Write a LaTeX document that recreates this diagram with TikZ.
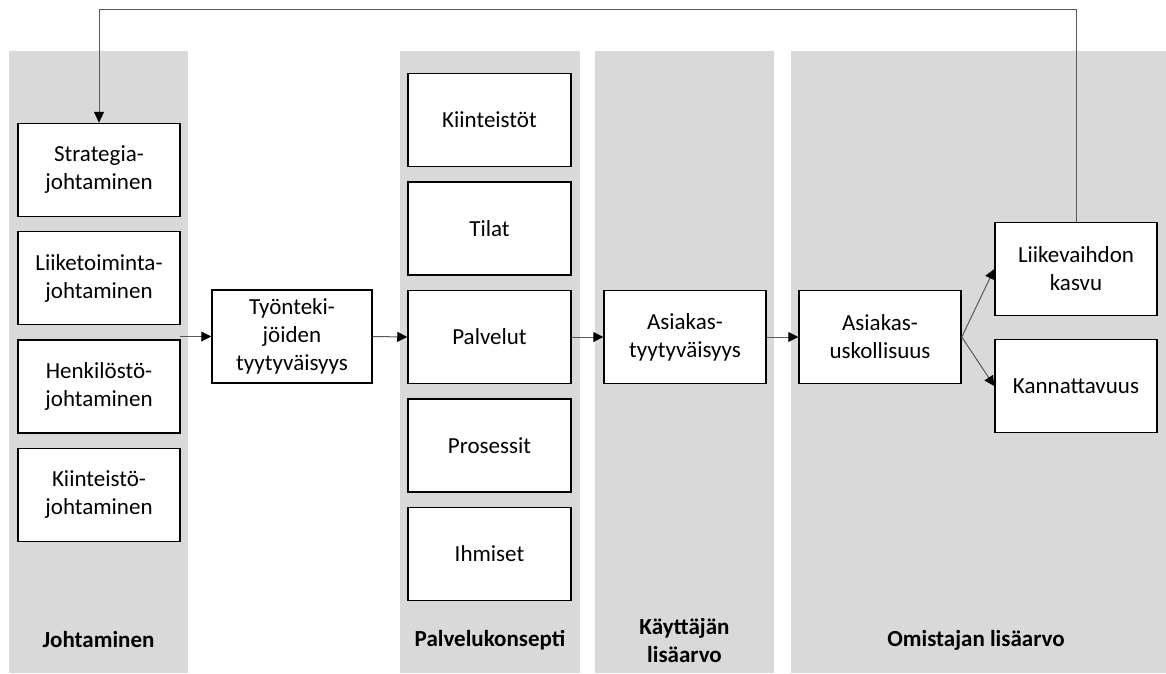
\documentclass[tikz,border=0pt]{standalone}
\usepackage{fontspec}
\setmainfont{Carlito}
\usetikzlibrary{arrows.meta}
\definecolor{lanegray}{HTML}{D9D9D9}
\definecolor{linkgray}{HTML}{595959}
\begin{document}
\begin{tikzpicture}[x=1pt,y=-1pt,
  lane/.style={fill=lanegray,draw=none},
  stage/.style={draw=black,line width=1.5pt,fill=white,rectangle,
    minimum width=162pt,minimum height=93pt,inner sep=0pt,align=center,
    font=\fontsize{23}{28}\selectfont},
  lanetitle/.style={font=\fontsize{23}{28}\selectfont\bfseries,align=center,inner sep=0pt},
  link/.style={draw=linkgray,line width=1pt,
    -{Triangle[length=10pt,width=10pt,fill=black,color=black]}},
  feedback/.style={draw=linkgray,line width=1pt,
    -{Triangle[length=11pt,width=10pt,fill=black,color=black]}}]
\useasboundingbox (0,0) rectangle (1166,673);

% grey lanes
\fill[lane] (9,51) rectangle (188,673);
\fill[lane] (400,51) rectangle (580,673);
\fill[lane] (595,51) rectangle (774,673);
\fill[lane] (791,51) rectangle (1166,673);

% lane titles
\node[lanetitle] (tJoh) at (98.5,640) {Johtaminen};
\node[lanetitle] (tPal) at (490,640) {Palvelukonsepti};
\node[lanetitle] (tKay) at (684.5,641) {Käyttäjän\\lisäarvo};
\node[lanetitle] (tOmi) at (976,640) {Omistajan lisäarvo};

% management boxes
\node[stage] (strat) at (99,170) {Strategia-\\johtaminen};
\node[stage] (liike) at (99,278) {Liiketoiminta-\\johtaminen};
\node[stage] (henk)  at (99,386.5) {Henkilöstö-\\johtaminen};
\node[stage] (kiint) at (99,495) {Kiinteistö-\\johtaminen};

% employee satisfaction
\node[stage,minimum width=160pt] (tyon) at (292,336.5) {Työnteki-\\jöiden\\tyytyväisyys};

% service concept
\node[stage,minimum width=163pt] (kiinteistot) at (489.5,120) {Kiinteistöt};
\node[stage,minimum width=163pt] (tilat)       at (489.5,228.5) {Tilat};
\node[stage,minimum width=163pt] (palvelut)    at (489.5,337) {Palvelut};
\node[stage,minimum width=163pt] (prosessit)   at (489.5,445.5) {Prosessit};
\node[stage,minimum width=163pt] (ihmiset)     at (489.5,554) {Ihmiset};

% customer and owner value
\node[stage] (asty) at (685,337) {Asiakas-\\tyytyväisyys};
\node[stage] (asus) at (880,337) {Asiakas-\\uskollisuus};
\node[stage] (lvk)  at (1076,269) {Liikevaihdon\\kasvu};
\node[stage] (kann) at (1076,386) {Kannattavuus};

% flow arrows
\coordinate (johOut) at (180,336.5);
\draw[link] (johOut) -- (tyon.west);
\draw[link] (tyon.east) -- (palvelut.west);
\draw[link] (palvelut.east) -- (asty.west);
\draw[link] (asty.east) -- (asus.west);
\draw[link] (asus.east) -- (lvk.west);
\draw[link] (asus.east) -- (kann.west);

% feedback loop to strategy
\draw[feedback] (lvk.north) |- (99,9.5) -- (strat.north);
\end{tikzpicture}
\end{document}
